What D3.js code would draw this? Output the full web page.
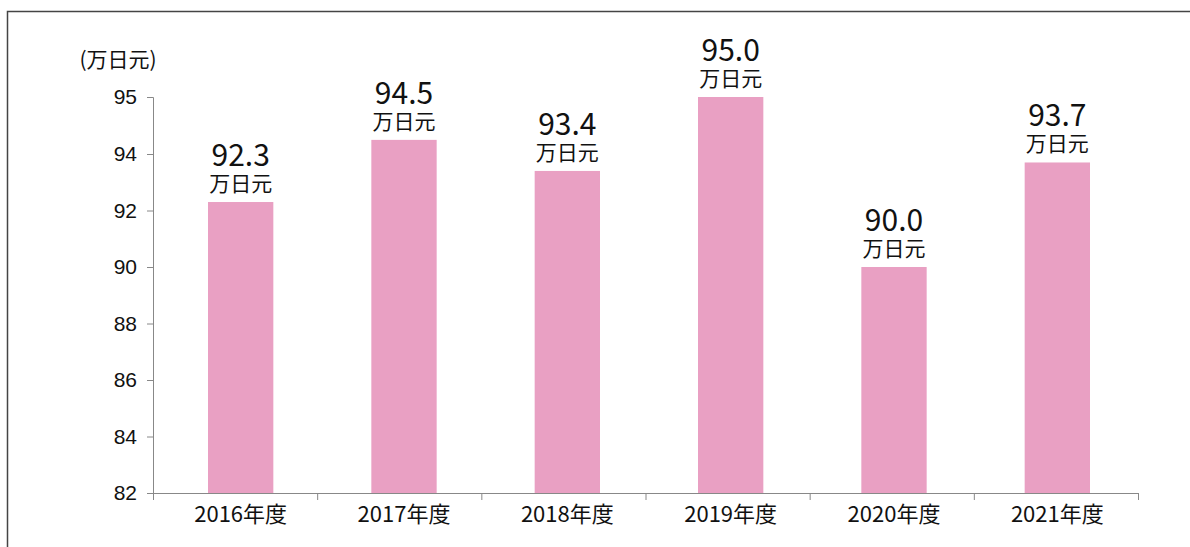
<!DOCTYPE html>
<html>
<head>
<meta charset="utf-8">
<script src="https://cdn.jsdelivr.net/npm/d3@7"></script>
<style>
  body { margin: 0; background: #fff; }
  svg { display: block; }
</style>
</head>
<body>
<div id="chart"></div>
<script>
// data
const years = ["2016年度", "2017年度", "2018年度", "2019年度", "2020年度", "2021年度"];
const values = [92.3, 94.5, 93.4, 95.0, 90.0, 93.7];
const yTicks = [82, 84, 86, 88, 90, 92, 94, 95];
const unit = "万日元";

const width = 1190, height = 547;
const margin = {top: 97, right: 52, bottom: 54, left: 153};

const svg = d3.select("#chart").append("svg")
    .attr("width", width)
    .attr("height", height);

// outer frame (only top and left edges show)
svg.append("rect")
    .attr("x", 7.5).attr("y", 11.5)
    .attr("width", width + 10).attr("height", height + 10)
    .attr("fill", "none")
    .attr("stroke", "#444")
    .attr("stroke-width", 1.5);

// bars sit a little right of the slot centres in the original
const x = d3.scaleBand()
    .domain(years)
    .range([margin.left + 6, width - margin.right + 1])
    .paddingInner(0.6)
    .paddingOuter(0.3);

// the original axis is squeezed at the top: 82..94.5 evenly, then up to 95 at the top
const perUnit = (height - margin.bottom - 154) / 12;
const y = d3.scaleLinear()
    .domain([82, 94.5, 95])
    .range([height - margin.bottom, height - margin.bottom - 12.5 * perUnit, margin.top]);

// bars
svg.selectAll(".bar")
    .data(values)
    .enter().append("rect")
    .attr("class", "bar")
    .attr("x", (d, i) => x(years[i]))
    .attr("width", x.bandwidth())
    .attr("y", d => y(d))
    .attr("height", d => y(82) - y(d))
    .attr("fill", "#e9a0c3");

// y axis
const yAxis = svg.append("g")
    .attr("transform", `translate(${margin.left},0)`)
    .call(d3.axisLeft(y).tickValues(yTicks).tickSizeOuter(0).tickSize(6).tickPadding(10));
yAxis.select(".domain").attr("stroke", "#888");
yAxis.selectAll(".tick line").attr("stroke", "#888");
yAxis.selectAll(".tick text")
    .attr("font-family", "Liberation Sans, Arial, sans-serif")
    .attr("font-size", 21)
    .attr("fill", "#111");

// x axis with ticks on category boundaries
const slot = (width - margin.right - margin.left) / years.length;
const boundaries = d3.range(years.length + 1);
const xg = svg.append("g");
xg.append("line")
    .attr("x1", margin.left).attr("x2", width - margin.right)
    .attr("y1", y(82) + 0.5).attr("y2", y(82) + 0.5)
    .attr("stroke", "#888");
xg.selectAll(".xtick")
    .data(boundaries)
    .enter().append("line")
    .attr("class", "xtick")
    .attr("x1", i => margin.left + i * slot + 0.5)
    .attr("x2", i => margin.left + i * slot + 0.5)
    .attr("y1", y(82))
    .attr("y2", y(82) + 7)
    .attr("stroke", "#888");
xg.selectAll(".xlabel")
    .data(years)
    .enter().append("text")
    .attr("x", d => x(d) + x.bandwidth() / 2)
    .attr("y", y(82) + 29)
    .attr("text-anchor", "middle")
    .attr("font-family", "Noto Sans CJK JP, sans-serif")
    .attr("font-size", 22)
    .attr("fill", "#111")
    .text(d => d);

// unit label
svg.append("text")
    .attr("x", 118).attr("y", 67)
    .attr("text-anchor", "middle")
    .attr("font-family", "Noto Sans CJK JP, sans-serif")
    .attr("font-size", 21)
    .attr("fill", "#111")
    .text("(" + unit + ")");

// value labels
const labels = svg.selectAll(".val")
    .data(values)
    .enter().append("g")
    .attr("class", "val")
    .attr("transform", (d, i) => `translate(${x(years[i]) + x.bandwidth() / 2},${y(d)})`);
labels.append("text")
    .attr("y", -36)
    .attr("text-anchor", "middle")
    .attr("font-family", "Noto Sans CJK JP, sans-serif")
    .attr("font-size", 30)
    .attr("fill", "#111")
    .text(d => d.toFixed(1));
labels.append("text")
    .attr("y", -11)
    .attr("text-anchor", "middle")
    .attr("font-family", "Noto Sans CJK JP, sans-serif")
    .attr("font-size", 21)
    .attr("fill", "#111")
    .text(unit);
</script>
</body>
</html>
